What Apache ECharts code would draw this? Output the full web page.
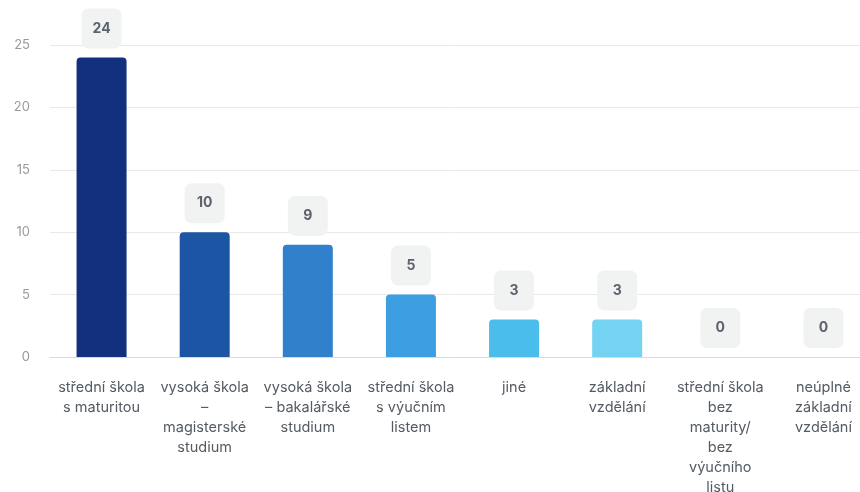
<!DOCTYPE html>
<html>
<head>
<meta charset="utf-8">
<script src="https://cdn.jsdelivr.net/npm/echarts@6/dist/echarts.min.js"></script>
<style>
  html, body { margin: 0; padding: 0; background: #fff; }
  #chart { width: 860px; height: 492px; }
</style>
</head>
<body>
<div id="chart"></div>
<script>
const categories = [
  'střední škola\ns maturitou',
  'vysoká škola\n–\nmagisterské\nstudium',
  'vysoká škola\n– bakalářské\nstudium',
  'střední škola\ns výučním\nlistem',
  'jiné',
  'základní\nvzdělání',
  'střední škola\nbez\nmaturity/\nbez\nvýučního\nlistu',
  'neúplné\nzákladní\nvzdělání'
];
const counts = [24, 10, 9, 5, 3, 3, 0, 0];
const barColors = ['#13307f', '#1d55a5', '#3080cc', '#3d9fe2', '#4bbdec', '#74d3f3', '#a6e3f7', '#c6edf9'];

const chart = echarts.init(document.getElementById('chart'));

chart.setOption({
  animation: false,
  textStyle: { fontFamily: 'Inter' },
  grid: { left: 50, top: 45, width: 825, bottom: 135, outerBoundsMode: 'none', containLabel: false },
  xAxis: {
    type: 'category',
    data: categories,
    axisTick: { show: false },
    axisLine: { lineStyle: { color: '#d3daf0' } },
    axisLabel: {
      color: '#555b63',
      fontSize: 14.5,
      lineHeight: 20,
      margin: 21,
      interval: 0
    }
  },
  yAxis: {
    type: 'value',
    min: 0,
    max: 25,
    interval: 5,
    axisLabel: { color: '#9a9a9a', fontSize: 13, margin: 20 },
    splitLine: { lineStyle: { color: '#e9e9e9' } }
  },
  series: [{
    type: 'bar',
    barWidth: 50,
    data: counts.map((v, i) => ({ value: v, itemStyle: { color: barColors[i] } })),
    itemStyle: { borderRadius: [4, 4, 0, 0] },
    label: {
      show: true,
      position: 'top',
      distance: 9,
      color: '#5c636d',
      fontSize: 14,
      fontWeight: 'bold',
      backgroundColor: '#f1f2f2',
      borderRadius: 7,
      width: 16,
      height: 16,
      lineHeight: 16,
      align: 'center',
      padding: 12
    }
  }]
});
</script>
</body>
</html>
